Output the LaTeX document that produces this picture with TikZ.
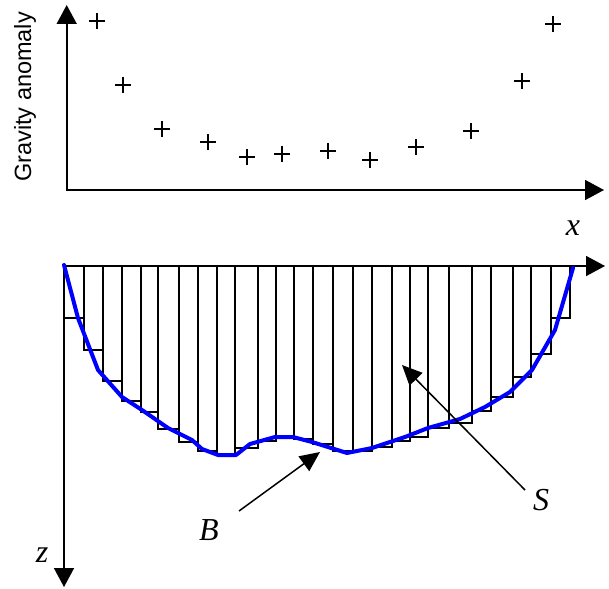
\documentclass[tikz,border=0pt]{standalone}
\usepackage{fontspec}
\newfontfamily\anomalyfont{Liberation Sans}
\newfontfamily\symbolfont{Liberation Serif}
\usetikzlibrary{arrows.meta,positioning}

\begin{document}
\begin{tikzpicture}[
        x=1pt,
        y=-1pt,
        axis/.style={{Triangle[length=19pt,width=20pt]}-{Triangle[length=19pt,width=20pt]}, line width=1.7pt},
        pointer/.style={-{Triangle[length=20pt,width=18pt]}, line width=1.5pt},
        prism/.style={draw=black, line width=1.4pt},
        basement/.style={line width=4pt, blue, line join=round, line cap=round},
        reading/.style={line width=1.6pt},
        varname/.style={font=\fontsize{32}{36}\selectfont\symbolfont\itshape, inner sep=0pt}
    ]
        \useasboundingbox (0,0) rectangle (609,588);

        % Top panel: measured anomaly values.
        \coordinate (gtop) at (66.7,5);
        \coordinate (gorigin) at (66.7,190);
        \coordinate (gright) at (604,190);
        \draw[axis] (gtop) -- (gorigin) -- (gright);
        \node[rotate=90, inner sep=0pt, font=\fontsize{23.5}{26}\selectfont\anomalyfont] (glabel) at (25,97) {Gravity anomaly};
        \node[varname] (xlabel) at (573,228) {x};
        \foreach \x/\y in {97/21,123/85,162/129,208/142,247/157,282/154,328/151,370/160,416/147,471/131,522/81,553/24} {
            \draw[reading] (\x-8,\y) -- (\x+8,\y) (\x,\y-8) -- (\x,\y+8);
        }

        % Bottom panel: prisms under the profile and the basement surface.
        \coordinate (sright) at (605,266);
        \coordinate (sorigin) at (64,266);
        \coordinate (sbottom) at (64,587);
        \foreach \a/\b/\d in {64/84/318,84/103/350,103/122/381,122/141/401,141/158/412,158/179/429,179/198/442,198/217/451,217/235/455,235/258/448,258/276/441,276/294/437,294/313/439,313/333/444,333/353/451,353/372/451,372/392/447,392/410/441,410/428/437,428/449/428,449/472/423,472/491/411,491/513/397,513/531/377,531/551/354,551/570/318} {
            \draw[prism] (\a,266) rectangle (\b,\d);
        }
        \draw[axis] (sright) -- (sorigin) -- (sbottom);
        \draw[basement]
            plot coordinates {(64,265) (78,318) (98,370) (122,397) (142,410) (168,428) (192,440) (202,449) (218,455) (236,455) (250,444) (275,437) (293,437) (312,442) (347,453) (372,448) (405,437) (428,428) (460,419) (485,407) (510,392) (532,370) (555,330) (573,268)};
        \node[varname] (zlabel) at (42,555) {z};

        \node[varname] (B) at (209,530) {B};
        \node[varname] (S) at (541,500) {S};
        \coordinate (btail) at (239,511);
        \coordinate (bhead) at (320,452);
        \coordinate (stail) at (525,490);
        \coordinate (shead) at (402,365);
        \draw[pointer] (btail) -- (bhead);
        \draw[pointer] (stail) -- (shead);
    \end{tikzpicture}
\end{document}
